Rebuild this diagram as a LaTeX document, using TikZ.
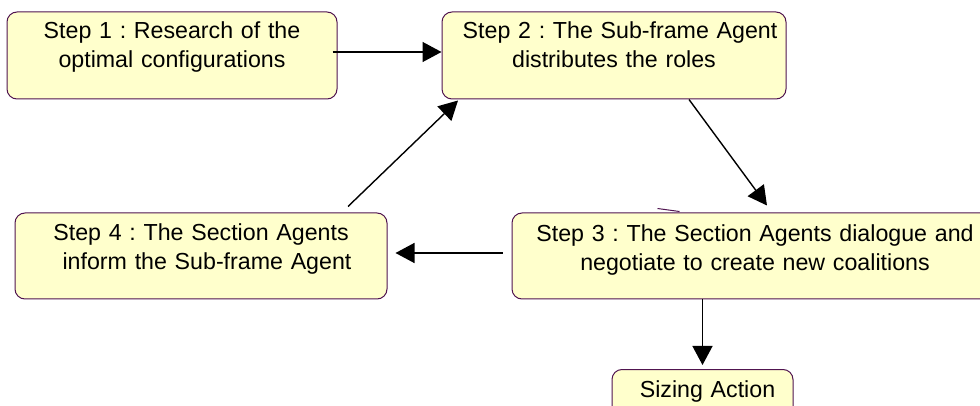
\documentclass[tikz,border=0pt]{standalone}
\usepackage{fontspec}
\setmainfont{Liberation Sans}
\usepackage{xcolor}
\usepackage{tikz}
\usetikzlibrary{arrows.meta}

\definecolor{boxfill}{HTML}{FFFFCC}
\definecolor{boxline}{RGB}{80,20,80}

\begin{document}
\frenchspacing
\begin{tikzpicture}[x=0.5pt, y=-0.5pt,
    stepbox/.style={draw=boxline, fill=boxfill, line width=0.5pt, rounded corners=5pt,
      inner xsep=0pt, inner ysep=0pt, align=center,
      font=\fontsize{11.6}{14.5}\selectfont},
    arr/.style={-{Triangle[length=9.5pt, width=10pt]}, line width=0.7pt, black}]
  \clip (0,0) rectangle (980,406);

  % steps of the cycle
  \node[stepbox, text width=165pt, text height=13.5pt, text depth=30pt] (b1) at (172,55.5)
    {Step 1 : Research of the\\ optimal configurations};
  \node[stepbox, text width=172pt, text height=13.5pt, text depth=30pt] (b2) at (614,55.5)
    {\hspace*{6pt}Step 2 : The Sub-frame Agent\\ distributes the roles};
  \node[stepbox, text width=243pt, text height=14.5pt, text depth=28.5pt] (b3) at (755,256)
    {Step 3 : The Section Agents dialogue and\\ negotiate to create new coalitions};
  \node[stepbox, text width=186pt, text height=14pt, text depth=29pt] (b4) at (201,256)
    {Step 4 : The Section Agents\\ \hspace*{6pt}inform the Sub-frame Agent};
  % final action
  \node[stepbox, text width=90.5pt, text height=14pt, text depth=19.5pt] (sz) at (702.5,403)
    {\hspace*{5pt}Sizing Action};

  % connectors
  \draw[arr] ([xshift=-2.5pt, yshift=1.75pt]b1.east) -- ([yshift=1.75pt]b2.west);
  \draw[arr] ([xshift=37.5pt]b2.south) -- ([xshift=6pt, yshift=3.5pt]b3.north);
  \draw[arr] ([xshift=-4.5pt, yshift=1.5pt]b3.west) -- ([xshift=4pt, yshift=1.5pt]b4.east);
  \draw[arr] ([xshift=73.5pt, yshift=3pt]b4.north) -- ([xshift=-78pt, yshift=-0.5pt]b2.south);
  \draw[arr] (b3.south -| sz.north) -- ([yshift=2pt]sz.north);

  % small stray tick above step 3
  \draw[boxline, line width=0.5pt] ([xshift=73pt, yshift=2pt]b3.north west) -- ([xshift=84pt, yshift=0.5pt]b3.north west);
\end{tikzpicture}
\end{document}
